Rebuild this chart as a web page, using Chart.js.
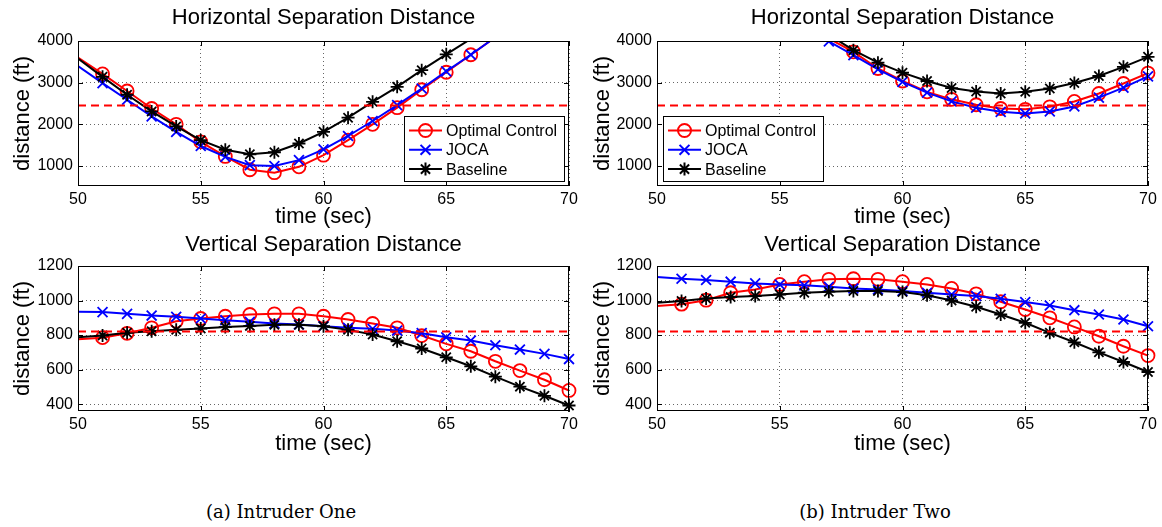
<!DOCTYPE html>
<html>
<head>
<meta charset="utf-8">
<script src="https://cdn.jsdelivr.net/npm/chart.js@4.4.1/dist/chart.umd.min.js"></script>
<style>
  body { margin: 0; background: #fff; width: 1162px; height: 527px; position: relative; overflow: hidden; }
  canvas { position: absolute; }
  .caption { position: absolute; top: 502px; line-height: 20px; font-family: "DejaVu Serif", serif; font-size: 18px; color: #000; transform: translateX(-50%); white-space: nowrap; }
</style>
</head>
<body>
<canvas id="oneHoriz" width="590" height="230" style="left:0;top:0"></canvas>
<canvas id="twoHoriz" width="582" height="230" style="left:580px;top:0"></canvas>
<canvas id="oneVert" width="590" height="230" style="left:0;top:230px"></canvas>
<canvas id="twoVert" width="582" height="230" style="left:580px;top:230px"></canvas>
<div class="caption" style="left:281px">(a) Intruder One</div>
<div class="caption" style="left:875px">(b) Intruder Two</div>

<script>
// time samples (sec), one marker per second
const timeSec = [50, 51, 52, 53, 54, 55, 56, 57, 58, 59, 60, 61, 62, 63, 64, 65, 66, 67, 68, 69, 70];
const timeTicks = [50, 55, 60, 65, 70];
const horizTicks = [1000, 2000, 3000, 4000];
const vertTicks = [400, 600, 800, 1000, 1200];

const seriesNames = ['Optimal Control', 'JOCA', 'Baseline'];

// separation thresholds (ft)
const horizThreshold = 2450;
const vertThreshold = 820;

// Intruder One - horizontal separation (ft)
const oneHorizOptimal = [3600, 3210, 2800, 2380, 2000, 1580, 1230, 910, 840, 980, 1260, 1620, 2000, 2400, 2830, 3250, 3670, 4090, 4520, 4950, 5380];
const oneHorizJoca = [3400, 2990, 2590, 2190, 1820, 1480, 1220, 1020, 1000, 1140, 1400, 1720, 2080, 2460, 2860, 3270, 3670, 4090, 4520, 4950, 5380];
const oneHorizBaseline = [3580, 3140, 2710, 2310, 1950, 1620, 1390, 1280, 1330, 1540, 1820, 2160, 2540, 2900, 3300, 3680, 4050, 4440, 4860, 5300, 5750];

// Intruder Two - horizontal separation (ft)
const twoHorizOptimal = [null, null, null, null, null, null, null, 4060, 3740, 3340, 3040, 2780, 2600, 2470, 2380, 2360, 2420, 2550, 2740, 2980, 3230];
const twoHorizJoca = [null, null, null, null, null, null, null, 3990, 3660, 3320, 3020, 2760, 2550, 2400, 2300, 2260, 2310, 2430, 2640, 2880, 3150];
const twoHorizBaseline = [null, null, null, null, null, null, null, 4150, 3780, 3480, 3240, 3040, 2870, 2790, 2740, 2780, 2860, 2990, 3160, 3380, 3620];

// Intruder One - vertical separation (ft)
const oneVertOptimal = [775, 785, 810, 842, 880, 896, 909, 919, 923, 923, 909, 890, 867, 842, 797, 749, 706, 648, 594, 541, 479];
const oneVertJoca = [935, 933, 923, 913, 906, 896, 886, 877, 867, 861, 851, 842, 836, 826, 811, 787, 768, 741, 716, 691, 661];
const oneVertBaseline = [787, 797, 813, 822, 830, 838, 846, 853, 859, 859, 851, 830, 803, 764, 722, 671, 619, 559, 501, 448, 392];

// Intruder Two - vertical separation (ft)
const twoVertOptimal = [968, 979, 1002, 1045, 1064, 1093, 1109, 1123, 1126, 1123, 1109, 1093, 1070, 1039, 993, 948, 900, 847, 793, 735, 681];
const twoVertJoca = [1136, 1126, 1119, 1109, 1099, 1093, 1088, 1080, 1070, 1064, 1055, 1045, 1035, 1026, 1010, 991, 971, 944, 919, 890, 851];
const twoVertBaseline = [987, 997, 1012, 1020, 1026, 1035, 1045, 1051, 1055, 1055, 1049, 1030, 1000, 964, 919, 871, 813, 758, 700, 644, 586];

const FONT = '"Liberation Sans", Arial, Helvetica, sans-serif';
Chart.defaults.font.family = FONT;
Chart.defaults.color = '#000';

const styles = [
  { color: '#ff0000', marker: 'circle', radius: 6.5 },
  { color: '#0000ff', marker: 'crossRot', radius: 7 },
  { color: '#000000', marker: 'star', radius: 6.5 }
];

function drawMarker(ctx, marker, x, y, r) {
  ctx.beginPath();
  if (marker === 'circle') {
    ctx.arc(x, y, r, 0, Math.PI * 2);
  } else {
    const d = r * Math.SQRT1_2;
    ctx.moveTo(x - d, y - d); ctx.lineTo(x + d, y + d);
    ctx.moveTo(x + d, y - d); ctx.lineTo(x - d, y + d);
    if (marker === 'star') {
      ctx.moveTo(x - r, y); ctx.lineTo(x + r, y);
      ctx.moveTo(x, y - r); ctx.lineTo(x, y + r);
    }
  }
  ctx.stroke();
}

// MATLAB style box, inner tick marks and the boxed legend
const matlabFrame = {
  id: 'matlabFrame',
  afterDraw(chart, args, opts) {
    const ctx = chart.ctx;
    const a = chart.chartArea;
    const xs = chart.scales.x, ys = chart.scales.y;
    ctx.save();
    ctx.strokeStyle = '#000';
    ctx.lineWidth = 1;
    ctx.setLineDash([]);
    ctx.strokeRect(a.left + 0.5, a.top + 0.5, a.right - a.left - 1, a.bottom - a.top - 1);
    ctx.beginPath();
    timeTicks.forEach(v => {
      const px = Math.round(xs.getPixelForValue(v)) + 0.5;
      ctx.moveTo(px, a.bottom); ctx.lineTo(px, a.bottom - 5);
      ctx.moveTo(px, a.top); ctx.lineTo(px, a.top + 5);
    });
    opts.yTicks.forEach(v => {
      const py = Math.round(ys.getPixelForValue(v)) + 0.5;
      ctx.moveTo(a.left, py); ctx.lineTo(a.left + 5, py);
      ctx.moveTo(a.right, py); ctx.lineTo(a.right - 5, py);
    });
    ctx.stroke();

    if (opts.legend) {
      const w = 160, h = 65;
      const bx = opts.legend === 'right' ? Math.round(a.right - 5 - w) : Math.round(a.left + 6);
      const by = Math.round(a.bottom - 5 - h);
      ctx.fillStyle = '#fff';
      ctx.fillRect(bx, by, w, h);
      ctx.strokeRect(bx + 0.5, by + 0.5, w, h);
      ctx.font = '16px ' + FONT;
      ctx.textBaseline = 'middle';
      styles.forEach((s, i) => {
        const y = by + 14.5 + i * 19.3;
        ctx.strokeStyle = s.color;
        ctx.lineWidth = 2;
        ctx.beginPath();
        ctx.moveTo(bx + 5, y); ctx.lineTo(bx + 38, y);
        ctx.stroke();
        drawMarker(ctx, s.marker, bx + 21.5, y, s.radius);
        ctx.fillStyle = '#000';
        ctx.fillText(seriesNames[i], bx + 42, y + 1);
      });
    }
    ctx.restore();
  }
};

function makePanel(id, geo, title, series, threshold, yMin, yMax, yTicks, legend) {
  const datasets = series.map((values, i) => ({
    label: seriesNames[i],
    data: values.map((v, k) => ({ x: timeSec[k], y: v })),
    borderColor: styles[i].color,
    borderWidth: 2,
    pointStyle: styles[i].marker,
    pointRadius: c => (c.raw && (c.raw.x === timeSec[0] || c.raw.y > yMax)) ? 0 : styles[i].radius,
    pointBorderColor: styles[i].color,
    pointBackgroundColor: 'rgba(0,0,0,0)',
    pointBorderWidth: 1.8,
    pointHoverRadius: 0,
    tension: 0,
    order: 3 - i,
    clip: { left: 0, top: 0, right: 10, bottom: 10 }
  }));
  datasets.push({
    label: 'threshold',
    data: [{ x: timeSec[0], y: threshold }, { x: timeSec[timeSec.length - 1], y: threshold }],
    borderColor: '#ff0000',
    borderWidth: 2,
    borderDash: [8, 5],
    pointRadius: 0,
    order: 0
  });

  return new Chart(document.getElementById(id), {
    type: 'line',
    data: { datasets },
    plugins: [matlabFrame],
    options: {
      responsive: false,
      animation: false,
      events: [],
      layout: { padding: { left: 0, right: geo.padRight, top: 0, bottom: 0 } },
      plugins: {
        legend: { display: false },
        tooltip: { enabled: false },
        title: {
          display: true,
          text: title,
          fullSize: false,
          color: '#000',
          font: { size: 22, weight: 'normal', lineHeight: 1.2 },
          padding: { top: geo.titleTop, bottom: geo.titleBottom }
        },
        matlabFrame: { yTicks, legend }
      },
      scales: {
        x: {
          type: 'linear',
          min: 50,
          max: 70,
          afterBuildTicks: s => { s.ticks = timeTicks.map(v => ({ value: v })); },
          afterFit: s => { s.height = geo.xAxisH; },
          grid: { color: '#666', lineWidth: 1, drawTicks: false },
          border: { display: false, dash: [1, 3] },
          ticks: { padding: 4, maxRotation: 0, font: { size: 16 }, callback: v => String(v) },
          title: { display: true, text: 'time (sec)', font: { size: 22 }, padding: { top: 0, bottom: geo.xTitlePad } }
        },
        y: {
          type: 'linear',
          min: yMin,
          max: yMax,
          afterBuildTicks: s => { s.ticks = yTicks.map(v => ({ value: v })); },
          afterFit: s => { s.width = geo.yAxisW; },
          grid: { color: '#666', lineWidth: 1, drawTicks: false },
          border: { display: false, dash: [1, 3] },
          ticks: { padding: 5, font: { size: 16 }, callback: v => String(v) },
          title: { display: true, text: 'distance (ft)', font: { size: 22 }, padding: { top: 10, bottom: 0 } }
        }
      }
    }
  });
}

const topLeftGeo = { yAxisW: 78, padRight: 21, xAxisH: 44, titleTop: 4.8, titleBottom: 9.8, xTitlePad: 0 };
const topRightGeo = { yAxisW: 77, padRight: 14, xAxisH: 44, titleTop: 4.8, titleBottom: 9.8, xTitlePad: 0 };
const botLeftGeo = { yAxisW: 78, padRight: 21, xAxisH: 49, titleTop: 1.8, titleBottom: 7.8, xTitlePad: 2.8 };
const botRightGeo = { yAxisW: 77, padRight: 14, xAxisH: 49, titleTop: 1.8, titleBottom: 7.8, xTitlePad: 2.8 };

makePanel('oneHoriz', topLeftGeo, 'Horizontal Separation Distance',
  [oneHorizOptimal, oneHorizJoca, oneHorizBaseline], horizThreshold, 520, 4000, horizTicks, 'right');
makePanel('twoHoriz', topRightGeo, 'Horizontal Separation Distance',
  [twoHorizOptimal, twoHorizJoca, twoHorizBaseline], horizThreshold, 520, 4000, horizTicks, 'left');
makePanel('oneVert', botLeftGeo, 'Vertical Separation Distance',
  [oneVertOptimal, oneVertJoca, oneVertBaseline], vertThreshold, 360, 1200, vertTicks, null);
makePanel('twoVert', botRightGeo, 'Vertical Separation Distance',
  [twoVertOptimal, twoVertJoca, twoVertBaseline], vertThreshold, 360, 1200, vertTicks, null);
</script>
</body>
</html>
